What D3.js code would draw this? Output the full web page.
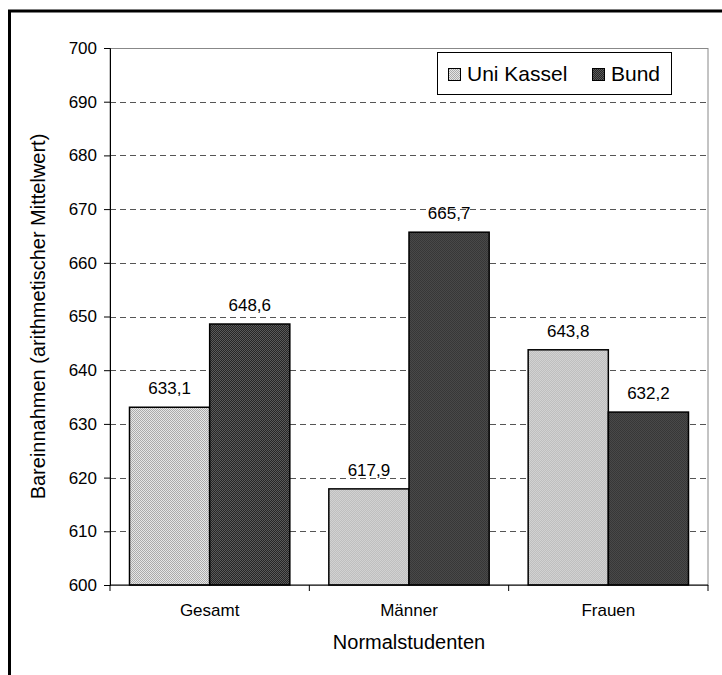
<!DOCTYPE html>
<html>
<head>
<meta charset="utf-8">
<script src="https://cdn.jsdelivr.net/npm/d3@7"></script>
<style>
  body { margin: 0; background: #fff; }
  svg { display: block; font-family: "Liberation Sans", Arial, sans-serif; }
</style>
</head>
<body>
<svg width="722" height="675"></svg>
<script>
// data
const categories = ["Gesamt", "Männer", "Frauen"]
const seriesNames = ["Uni Kassel", "Bund"]
const uniKassel = [633.1, 617.9, 643.8]
const bund = [648.6, 665.7, 632.2]
const yTicks = [600, 610, 620, 630, 640, 650, 660, 670, 680, 690, 700]

const svg = d3.select("svg")
const margin = {top: 48, left: 110, right: 14, bottom: 90}
const width = 722 - margin.left - margin.right
const height = 675 - margin.top - margin.bottom

// patterns for the bars
const defs = svg.append("defs")
function checker(id, a, b) {
  const p = defs.append("pattern").attr("id", id)
    .attr("width", 2).attr("height", 2).attr("patternUnits", "userSpaceOnUse")
  p.append("rect").attr("width", 2).attr("height", 2).attr("fill", a)
  p.append("rect").attr("width", 1).attr("height", 1).attr("fill", b)
  p.append("rect").attr("x", 1).attr("y", 1).attr("width", 1).attr("height", 1).attr("fill", b)
}
checker("pLight", "#e6e6e6", "#ababab")
checker("pDark", "#262626", "#5a5a5a")
const fills = ["url(#pLight)", "url(#pDark)"]

// outer frame (only left/top visible in the crop)
svg.append("rect").attr("x", 9.5).attr("y", 11).attr("width", 740).attr("height", 700)
  .attr("fill", "none").attr("stroke", "#000").attr("stroke-width", 3)

const g = svg.append("g").attr("transform", `translate(${margin.left},${margin.top})`)

const y = d3.scaleLinear().domain([600, 700]).range([height, 0])
const x0 = d3.scaleBand().domain(categories).range([0, width]).padding(0)
const x1 = d3.scaleBand().domain(seriesNames).range([19.5, x0.bandwidth() - 19.5]).padding(0)

// plot area border
g.append("rect").attr("x", 0).attr("y", 0.5).attr("width", width).attr("height", height)
  .attr("fill", "none").attr("stroke", "#888").attr("stroke-width", 1)

// gridlines
g.selectAll(".grid").data(yTicks.filter(t => t > 600 && t < 700)).enter().append("line")
  .attr("x1", 0).attr("x2", width)
  .attr("y1", d => Math.round(y(d)) + 0.5).attr("y2", d => Math.round(y(d)) + 0.5)
  .attr("stroke", "#555").attr("stroke-dasharray", "6,4")

const data = [uniKassel, bund]

const groups = g.selectAll(".grp").data(categories).enter().append("g")
  .attr("transform", d => `translate(${x0(d)},0)`)

groups.selectAll("rect")
  .data((c, i) => seriesNames.map((s, k) => ({key: s, k: k, value: data[k][i]})))
  .enter().append("rect")
  .attr("x", d => x1(d.key))
  .attr("y", d => y(d.value))
  .attr("width", x1.bandwidth())
  .attr("height", d => y(600) - y(d.value))
  .attr("fill", d => fills[d.k])
  .attr("stroke", "#000").attr("stroke-width", 1.5)

groups.selectAll("text")
  .data((c, i) => seriesNames.map((s, k) => ({key: s, k: k, value: data[k][i]})))
  .enter().append("text")
  .attr("x", d => x1(d.key) + x1.bandwidth() / 2)
  .attr("y", d => y(d.value) - 13)
  .attr("text-anchor", "middle")
  .style("font-size", "17px")
  .text(d => d.value.toFixed(1).replace(".", ","))

// y axis
const yAxis = g.append("g")
  .call(d3.axisLeft(y).tickValues(yTicks).tickSize(6).tickPadding(7).tickFormat(d3.format("d")))
yAxis.select(".domain").attr("stroke", "#000")
yAxis.selectAll("text").style("font-size", "17px").attr("fill", "#000")

// x axis
const xAxis = g.append("g").attr("transform", `translate(0,${height})`)
xAxis.append("line").attr("x1", 0).attr("x2", width).attr("stroke", "#000")
xAxis.selectAll(".tk").data(d3.range(categories.length + 1)).enter().append("line")
  .attr("x1", i => i * x0.bandwidth()).attr("x2", i => i * x0.bandwidth())
  .attr("y1", 0).attr("y2", 6).attr("stroke", "#000")
xAxis.selectAll(".lbl").data(categories).enter().append("text")
  .attr("x", d => x0(d) + x0.bandwidth() / 2)
  .attr("y", 31)
  .attr("text-anchor", "middle")
  .style("font-size", "17px")
  .text(d => d)

svg.append("text")
  .attr("x", margin.left + width / 2).attr("y", 649)
  .attr("text-anchor", "middle").style("font-size", "20px")
  .text("Normalstudenten")

svg.append("text")
  .attr("transform", `translate(45,${margin.top + height / 2}) rotate(-90)`)
  .attr("text-anchor", "middle").style("font-size", "20px")
  .text("Bareinnahmen (arithmetischer Mittelwert)")

// legend
const lg = svg.append("g").attr("transform", "translate(437,52)")
lg.append("rect").attr("x", 0.5).attr("y", 0.5).attr("width", 234).attr("height", 42)
  .attr("fill", "#fff").attr("stroke", "#000")
const lx = [11, 155]
const items = lg.selectAll(".it").data(seriesNames).enter().append("g")
  .attr("transform", (d, i) => `translate(${lx[i]},0)`)
items.append("rect").attr("x", 0.5).attr("y", 16.5).attr("width", 12).attr("height", 12)
  .attr("fill", (d, i) => fills[i]).attr("stroke", "#000")
items.append("text").attr("x", 19).attr("y", 29).style("font-size", "21px").text(d => d)
</script>
</body>
</html>
